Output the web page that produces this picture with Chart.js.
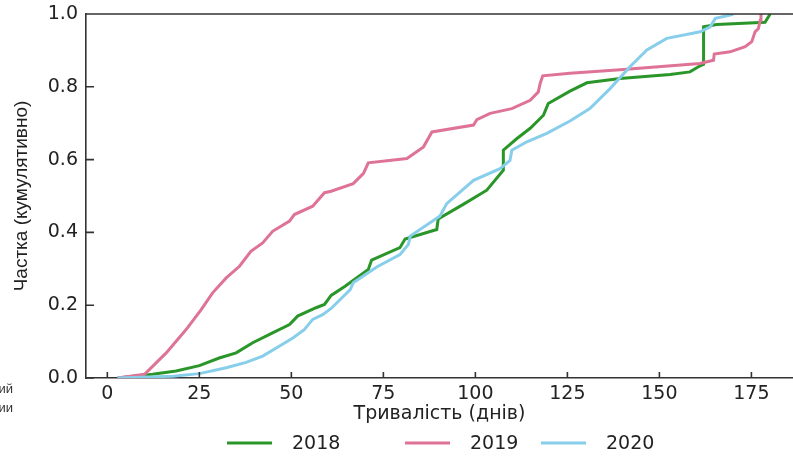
<!DOCTYPE html>
<html>
<head>
<meta charset="utf-8">
<script src="https://cdn.jsdelivr.net/npm/chart.js@4"></script>
<style>
  html, body { margin: 0; padding: 0; background: #fff; }
  #wrap { position: relative; width: 793px; height: 457px; overflow: hidden; }
  .cut { position: absolute; right: 780px; font: 13px "Liberation Sans", Arial, sans-serif; color: #333; white-space: nowrap; }
</style>
</head>
<body>
<div id="wrap">
  <canvas id="myChart" width="793" height="457"></canvas>
  <div class="cut" style="top:381px">ий</div>
  <div class="cut" style="top:400px">ии</div>
</div>
<script>
/************** Тривалість: кумулятивна частка ******/
var xTicks = [0, 25, 50, 75, 100, 125, 150, 175];
var yTicks = [0, 0.2, 0.4, 0.6, 0.8, 1.0];
var years = ["2018", "2019", "2020"];
var lineColors = ["#2a962a", "#de7396", "#87ceeb"];

var days2018 = [2.8, 12.3, 18.7, 25.0, 30.4, 35.0, 39.5, 44.9, 49.5, 51.7, 56.7, 59.0, 60.8, 64.6, 70.9, 71.8, 79.5, 80.9, 89.5, 89.9, 96.7, 103.1, 107.6, 107.6, 111.3, 114.9, 118.5, 119.8, 125.7, 130.3, 139.3, 152.9, 158.3, 160.6, 162.0, 162.0, 165.6, 178.7, 180.1];
var share2018 = [0.0, 0.010, 0.019, 0.034, 0.055, 0.069, 0.097, 0.124, 0.147, 0.170, 0.193, 0.202, 0.227, 0.252, 0.298, 0.324, 0.358, 0.382, 0.408, 0.437, 0.477, 0.516, 0.571, 0.626, 0.658, 0.686, 0.722, 0.754, 0.788, 0.811, 0.823, 0.834, 0.841, 0.855, 0.862, 0.965, 0.971, 0.977, 1.0];

var days2019 = [2.8, 10.1, 16.0, 21.4, 25.5, 28.6, 32.3, 35.9, 39.0, 42.2, 44.9, 49.5, 50.8, 55.8, 59.0, 60.8, 66.8, 69.6, 70.9, 81.4, 85.9, 88.2, 99.5, 100.4, 104.0, 109.9, 114.9, 117.1, 117.6, 118.3, 125.7, 139.3, 161.0, 164.7, 164.9, 169.2, 173.3, 175.1, 176.0, 176.9, 177.4, 177.6];
var share2019 = [0.0, 0.010, 0.069, 0.133, 0.188, 0.234, 0.275, 0.307, 0.348, 0.371, 0.403, 0.431, 0.449, 0.472, 0.509, 0.513, 0.534, 0.562, 0.591, 0.603, 0.635, 0.676, 0.695, 0.710, 0.727, 0.740, 0.763, 0.786, 0.809, 0.830, 0.837, 0.847, 0.864, 0.873, 0.890, 0.896, 0.910, 0.924, 0.951, 0.960, 0.983, 1.0];

var days2020 = [2.8, 17.8, 25.0, 32.3, 37.7, 42.2, 46.7, 50.4, 53.5, 55.8, 58.5, 60.8, 66.0, 66.8, 73.2, 79.5, 81.8, 82.3, 90.4, 92.2, 99.5, 106.7, 109.4, 109.9, 114.0, 119.4, 125.7, 131.1, 136.6, 142.0, 146.6, 152.0, 161.1, 163.8, 165.2, 169.2, 170.1];
var share2020 = [0.0, 0.005, 0.012, 0.028, 0.043, 0.060, 0.087, 0.110, 0.133, 0.161, 0.174, 0.191, 0.243, 0.262, 0.305, 0.339, 0.367, 0.390, 0.445, 0.479, 0.543, 0.575, 0.598, 0.626, 0.649, 0.672, 0.706, 0.740, 0.795, 0.855, 0.901, 0.933, 0.951, 0.965, 0.988, 0.997, 1.0];

var allDays = [days2018, days2019, days2020];
var allShares = [share2018, share2019, share2020];

function points(d, s) {
  return d.map(function (x, i) { return {x: x, y: s[i]}; });
}

// inward ticks, top spine and the legend under the axis title
var legendLeft = [227, 405, 541];
var frame = {
  id: "frame",
  afterDraw: function (chart) {
    var ctx = chart.ctx, a = chart.chartArea;
    var xs = chart.scales.x, ys = chart.scales.y;
    ctx.save();
    ctx.strokeStyle = "#333";
    ctx.lineWidth = 1.6;
    ctx.beginPath();
    ctx.moveTo(a.left, a.top);
    ctx.lineTo(a.right, a.top);
    xTicks.forEach(function (v) {
      var px = xs.getPixelForValue(v);
      ctx.moveTo(px, a.bottom);
      ctx.lineTo(px, a.bottom - 6);
    });
    yTicks.forEach(function (v) {
      var py = ys.getPixelForValue(v);
      ctx.moveTo(a.left, py);
      ctx.lineTo(a.left + 8, py);
    });
    ctx.stroke();

    // legend
    ctx.font = "19px 'DejaVu Sans', sans-serif";
    ctx.textBaseline = "middle";
    ctx.fillStyle = "#222";
    var y = 443;
    years.forEach(function (t, i) {
      var x = legendLeft[i];
      ctx.strokeStyle = lineColors[i];
      ctx.lineWidth = 3;
      ctx.beginPath();
      ctx.moveTo(x, y);
      ctx.lineTo(x + 45, y);
      ctx.stroke();
      ctx.fillText(t, x + 65, y + 1);
    });
    ctx.restore();
  }
};

Chart.defaults.font.family = "'DejaVu Sans', sans-serif";
Chart.defaults.font.size = 19;
Chart.defaults.color = "#222";

new Chart("myChart", {
  type: "line",
  data: {
    datasets: years.map(function (yr, i) {
      return {
        label: yr,
        data: points(allDays[i], allShares[i]),
        borderColor: lineColors[i],
        backgroundColor: lineColors[i],
        borderWidth: 3,
        pointRadius: 0,
        tension: 0,
        fill: false,
        order: 3 - i
      };
    })
  },
  options: {
    responsive: false,
    animation: false,
    devicePixelRatio: 1,
    layout: {padding: {top: 14, left: 0, right: 0, bottom: 0}},
    plugins: {
      legend: {display: false},
      tooltip: {enabled: false}
    },
    scales: {
      x: {
        type: "linear",
        min: -5.8,
        max: 186.3,
        grid: {display: false},
        border: {display: true, color: "#333", width: 1.6},
        ticks: {padding: -3, callback: function (v) { return v; }},
        afterBuildTicks: function (s) { s.ticks = xTicks.map(function (v) { return {value: v}; }); },
        afterFit: function (s) { s.height = 79; },
        title: {
          display: true,
          text: "Тривалість (днів)",
          padding: {top: 0, bottom: 32},
          font: {size: 19}
        }
      },
      y: {
        type: "linear",
        min: 0,
        max: 1,
        grid: {display: false},
        border: {display: true, color: "#333", width: 1.6},
        ticks: {padding: 0, callback: function (v) { return v.toFixed(1); }},
        afterBuildTicks: function (s) { s.ticks = yTicks.map(function (v) { return {value: v}; }); },
        afterFit: function (s) { s.width = 86; },
        title: {
          display: true,
          text: "Частка (кумулятивно)",
          padding: {top: 10, bottom: 0},
          font: {family: "'Liberation Sans', Arial, sans-serif", size: 19}
        }
      }
    }
  },
  plugins: [frame]
});
</script>
</body>
</html>
